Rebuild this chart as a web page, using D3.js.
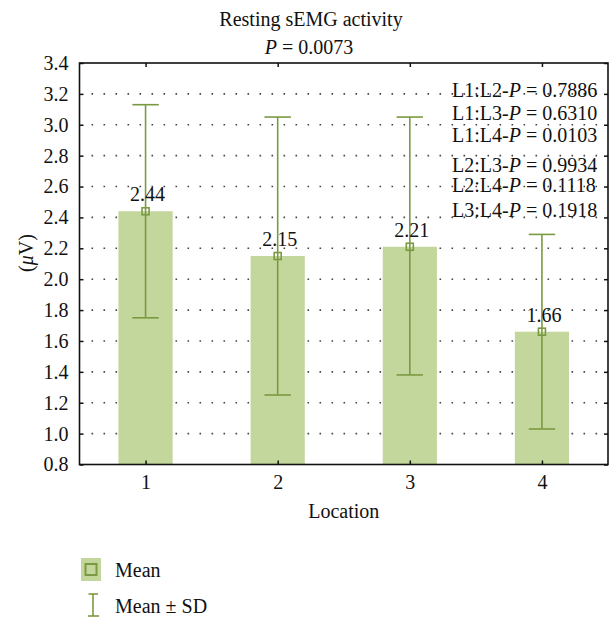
<!DOCTYPE html>
<html>
<head>
<meta charset="utf-8">
<script src="https://cdn.jsdelivr.net/npm/d3@7"></script>
<style>
    body { margin: 0; background: #fff; }
    text { font-family: "Liberation Serif", "Times New Roman", serif; fill: #111; }
</style>
</head>
<body>
<div id="plot"></div>
<script>
const PLOT_WIDTH = 610;
const PLOT_HEIGHT = 618;

// Data
const locations = [1, 2, 3, 4];
const means = [2.44, 2.15, 2.21, 1.66];
const sdUpper = [3.13, 3.05, 3.05, 2.29];
const sdLower = [1.75, 1.25, 1.38, 1.03];
const yTicks = [0.8, 1.0, 1.2, 1.4, 1.6, 1.8, 2.0, 2.2, 2.4, 2.6, 2.8, 3.0, 3.2, 3.4];
const pairLabels = ['L1:L2', 'L1:L3', 'L1:L4', 'L2:L3', 'L2:L4', 'L3:L4'];
const pairValues = ['0.7886', '0.6310', '0.0103', '0.9934', '0.1118', '0.1918'];
const pairRowY = [96.5, 119.5, 141.5, 171.5, 192, 216.5];

const BAR_FILL = '#c3d69b';
const ERR_COLOR = '#7a9a42';

const margin = { left: 79.5, right: 2, top: 63, bottom: 153.5 };
const x0 = margin.left, x1 = PLOT_WIDTH - margin.right;
const y0 = PLOT_HEIGHT - margin.bottom, y1 = margin.top;

var svg = d3.select('#plot')
    .append('svg')
    .attr('width', PLOT_WIDTH)
    .attr('height', PLOT_HEIGHT);

let x = d3.scaleLinear().domain([0.5, 4.5]).range([x0, x1]);
let y = d3.scaleLinear().domain([0.8, 3.4]).range([y0, y1]);

let band = x(1) - x(0);
let barWidth = 0.41 * band;
let capWidth = 0.2 * band;

let data = locations.map((loc, i) => ({
    loc: loc,
    mean: means[i],
    hi: sdUpper[i],
    lo: sdLower[i]
}));

// dotted grid
svg.append('g')
    .selectAll('line')
    .data(yTicks.slice(1, -1))
    .enter()
    .append('line')
    .attr('x1', x0 + 2)
    .attr('x2', x1)
    .attr('y1', d => y(d))
    .attr('y2', d => y(d))
    .attr('stroke', '#444')
    .attr('stroke-width', 1.6)
    .attr('stroke-dasharray', '1.6,10.4')
    .attr('stroke-dashoffset', -10);

// bars
svg.append('g')
    .selectAll('rect')
    .data(data)
    .enter()
    .append('rect')
    .attr('x', d => x(d.loc) - barWidth / 2)
    .attr('y', d => y(d.mean))
    .attr('width', barWidth)
    .attr('height', d => y0 - y(d.mean))
    .attr('fill', BAR_FILL);

// error bars
let err = svg.append('g')
    .attr('stroke', ERR_COLOR)
    .attr('stroke-width', 1.6)
    .attr('fill', 'none');

err.selectAll('.stem')
    .data(data)
    .enter()
    .append('line')
    .attr('x1', d => x(d.loc))
    .attr('x2', d => x(d.loc))
    .attr('y1', d => y(d.hi))
    .attr('y2', d => y(d.lo));

err.selectAll('.cap-hi')
    .data(data)
    .enter()
    .append('line')
    .attr('x1', d => x(d.loc) - capWidth / 2)
    .attr('x2', d => x(d.loc) + capWidth / 2)
    .attr('y1', d => y(d.hi))
    .attr('y2', d => y(d.hi));

err.selectAll('.cap-lo')
    .data(data)
    .enter()
    .append('line')
    .attr('x1', d => x(d.loc) - capWidth / 2)
    .attr('x2', d => x(d.loc) + capWidth / 2)
    .attr('y1', d => y(d.lo))
    .attr('y2', d => y(d.lo));

// mean markers
err.selectAll('rect')
    .data(data)
    .enter()
    .append('rect')
    .attr('x', d => x(d.loc) - 3.5)
    .attr('y', d => y(d.mean) - 3.5)
    .attr('width', 7)
    .attr('height', 7);

// mean labels
svg.append('g')
    .selectAll('text')
    .data(data)
    .enter()
    .append('text')
    .attr('x', d => x(d.loc) + 2)
    .attr('y', d => y(d.mean) - 10)
    .attr('text-anchor', 'middle')
    .attr('font-size', 20)
    .text(d => d.mean.toFixed(2));

// axes with inward ticks
let yAxisL = d3.axisLeft(y).tickValues(yTicks).tickSizeInner(-4).tickSizeOuter(0).tickPadding(11)
    .tickFormat(d3.format('.1f'));
let yAxisR = d3.axisRight(y).tickValues(yTicks).tickSizeInner(-4).tickSizeOuter(0).tickFormat('');
let xAxisB = d3.axisBottom(x).tickValues(locations).tickSizeInner(-4).tickSizeOuter(0).tickPadding(10)
    .tickFormat(d3.format('d'));
let xAxisT = d3.axisTop(x).tickValues(locations).tickSizeInner(-4).tickSizeOuter(0).tickFormat('');

function styleAxis(g) {
    g.select('.domain').remove();
    g.selectAll('line').attr('stroke', '#111').attr('stroke-width', 1.5);
    g.selectAll('text')
        .attr('font-family', '"Liberation Serif", "Times New Roman", serif')
        .attr('font-size', 20)
        .attr('fill', '#111');
}

svg.append('g').attr('transform', `translate(${x0},0)`).call(yAxisL).call(styleAxis);
svg.append('g').attr('transform', `translate(${x1},0)`).call(yAxisR).call(styleAxis);
svg.append('g').attr('transform', `translate(0,${y0})`).call(xAxisB).call(styleAxis);
svg.append('g').attr('transform', `translate(0,${y1})`).call(xAxisT).call(styleAxis);

// frame
svg.append('rect')
    .attr('x', x0)
    .attr('y', y1)
    .attr('width', x1 - x0)
    .attr('height', y0 - y1)
    .attr('fill', 'none')
    .attr('stroke', '#111')
    .attr('stroke-width', 1.6);

// titles
svg.append('text')
    .attr('x', 311)
    .attr('y', 26)
    .attr('text-anchor', 'middle')
    .attr('font-size', 20)
    .text('Resting sEMG activity');

let pTitle = svg.append('text')
    .attr('x', 309)
    .attr('y', 54)
    .attr('text-anchor', 'middle')
    .attr('font-size', 20);
pTitle.append('tspan').attr('font-style', 'italic').text('P');
pTitle.append('tspan').text(' = 0.0073');

// pairwise p-values
let pairs = svg.append('g')
    .selectAll('text')
    .data(pairLabels)
    .enter()
    .append('text')
    .attr('x', 452)
    .attr('y', (d, i) => pairRowY[i])
    .attr('font-size', 20);
pairs.append('tspan').text(d => d + '-');
pairs.append('tspan').attr('font-style', 'italic').text('P');
pairs.append('tspan').text((d, i) => ' = ' + pairValues[i]);

// axis titles
svg.append('text')
    .attr('x', (x0 + x1) / 2)
    .attr('y', 518)
    .attr('text-anchor', 'middle')
    .attr('font-size', 20)
    .text('Location');

let yTitle = svg.append('text')
    .attr('transform', 'translate(33,253) rotate(-90)')
    .attr('text-anchor', 'middle')
    .attr('font-size', 20);
yTitle.append('tspan').text('(');
yTitle.append('tspan').attr('font-style', 'italic').text('μ');
yTitle.append('tspan').text('V)');

// legend
let legend = svg.append('g');
legend.append('rect')
    .attr('x', 81).attr('y', 558)
    .attr('width', 20).attr('height', 23)
    .attr('fill', BAR_FILL);
legend.append('rect')
    .attr('x', 85.5).attr('y', 564)
    .attr('width', 11).attr('height', 11)
    .attr('fill', 'none')
    .attr('stroke', ERR_COLOR)
    .attr('stroke-width', 2);
legend.append('text')
    .attr('x', 115).attr('y', 577)
    .attr('font-size', 20)
    .text('Mean');

let sym = legend.append('g')
    .attr('stroke', ERR_COLOR)
    .attr('stroke-width', 1.6);
sym.append('line').attr('x1', 93).attr('x2', 93).attr('y1', 594).attr('y2', 616);
sym.append('line').attr('x1', 88.5).attr('x2', 98).attr('y1', 594).attr('y2', 594);
sym.append('line').attr('x1', 88).attr('x2', 99).attr('y1', 616).attr('y2', 616);
legend.append('text')
    .attr('x', 115).attr('y', 613)
    .attr('font-size', 20)
    .text('Mean ± SD');
</script>
</body>
</html>
